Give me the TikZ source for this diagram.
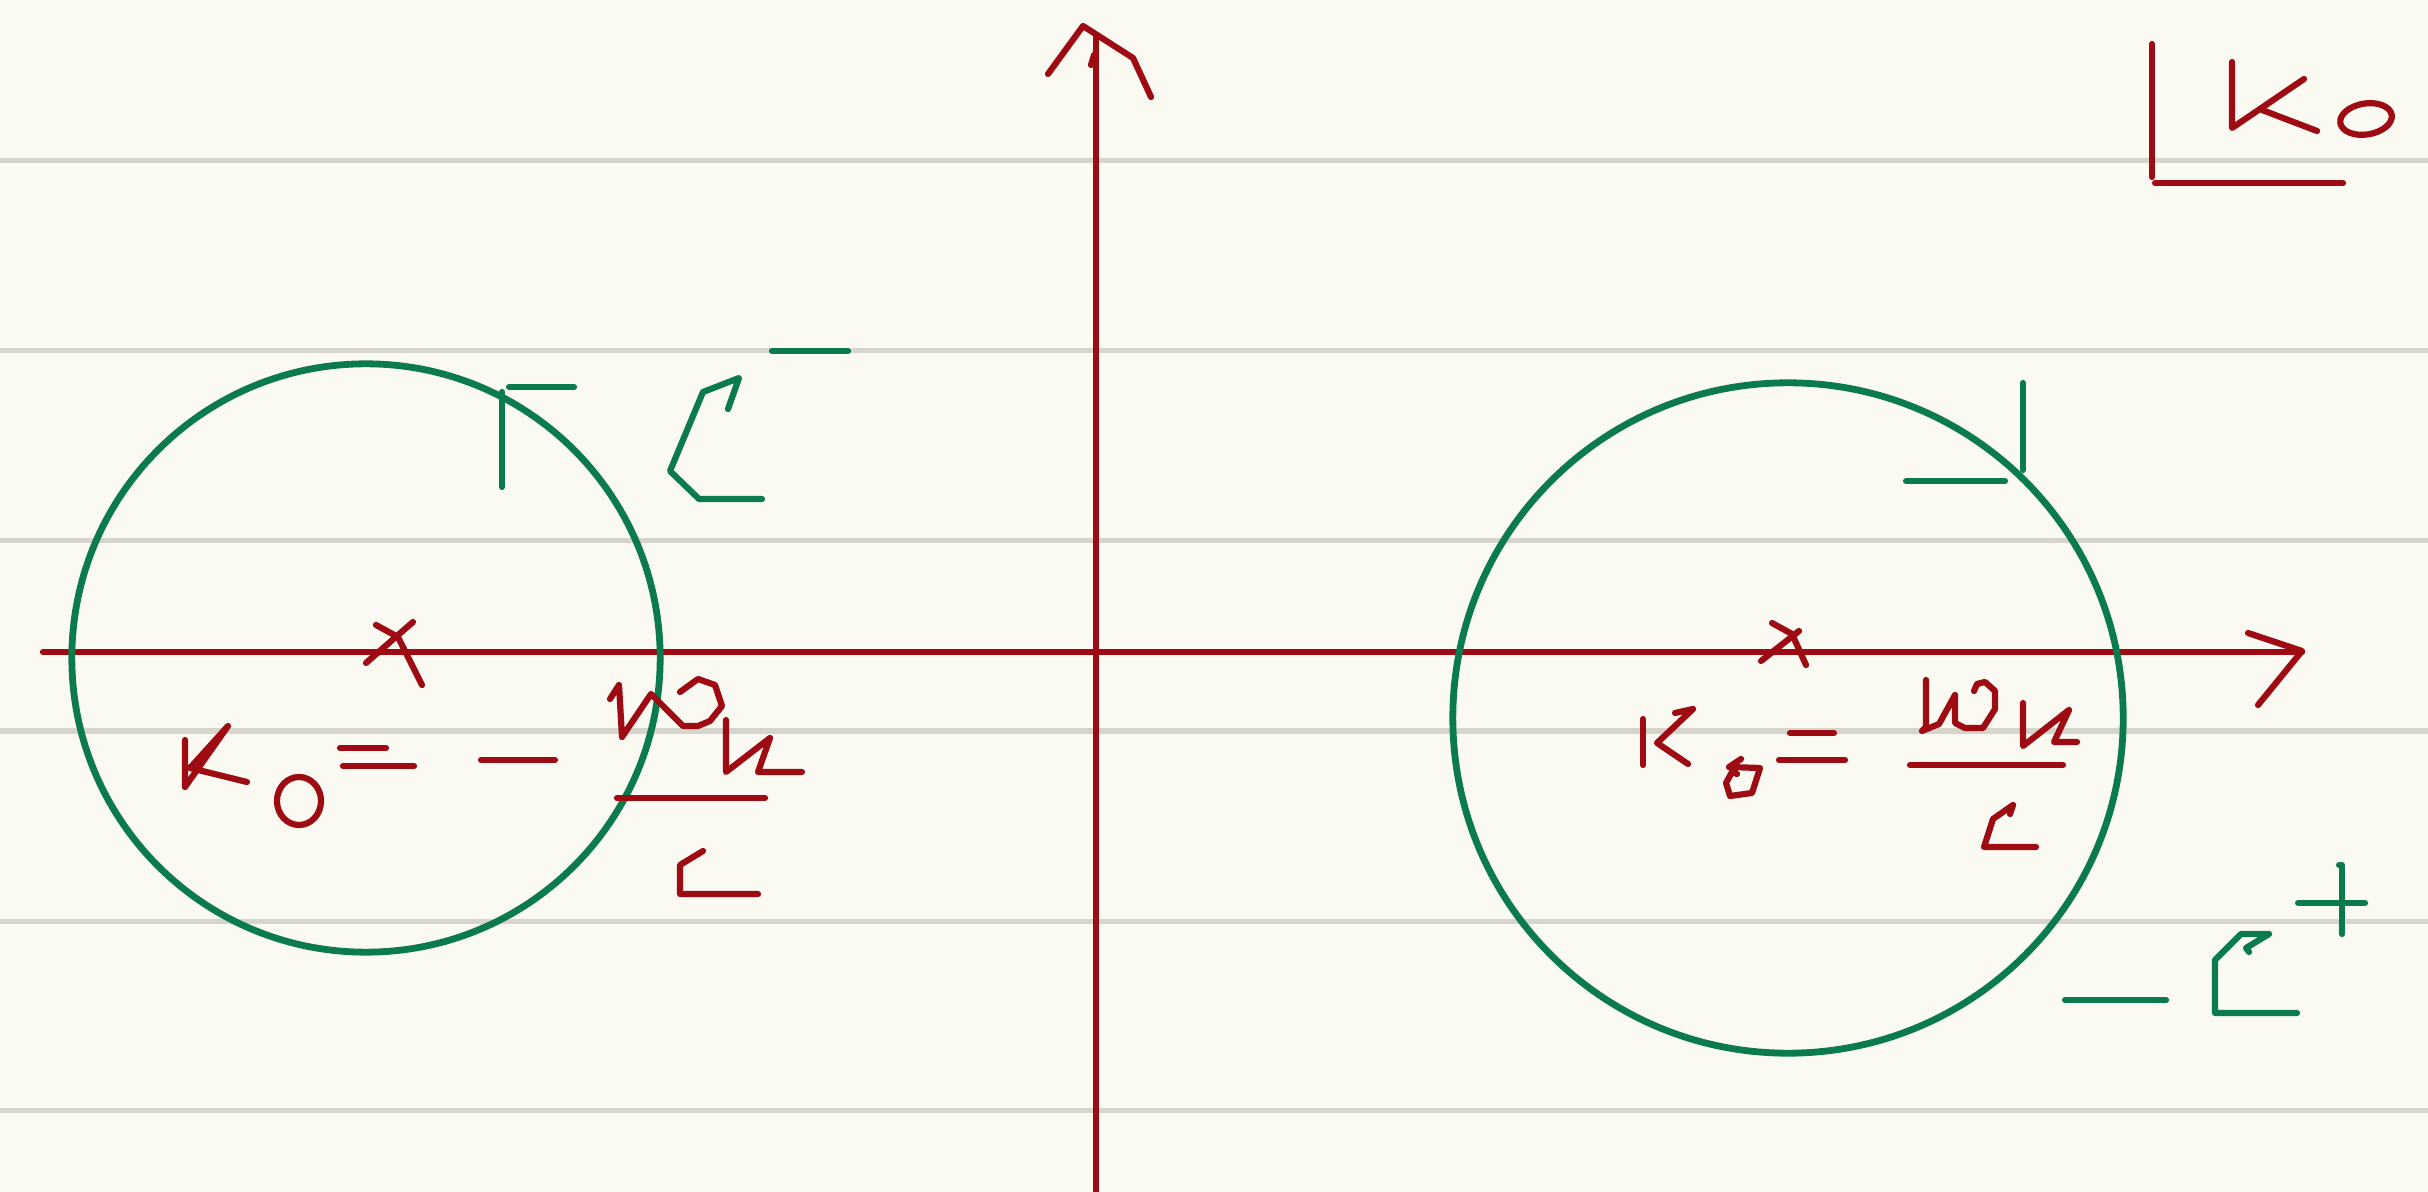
\documentclass[tikz,border=0pt]{standalone}
\definecolor{paper}{HTML}{FAF9F2}
\definecolor{ruleline}{HTML}{D6D5CC}
\definecolor{ink}{HTML}{9E0B12}
\definecolor{pen}{HTML}{0B7A4C}
\begin{document}
\begin{tikzpicture}[x=0.01cm,y=-0.01cm,
  redink/.style={draw=ink,line width=0.062cm,line cap=round,line join=round},
  greenink/.style={draw=pen,line width=0.062cm,line cap=round,line join=round},
  ruled/.style={draw=ruleline,line width=0.05cm}]
\fill[paper] (0,0) rectangle (2428,1192);
\useasboundingbox (0,0) rectangle (2428,1192);
% ruled lines
\foreach \yy in {161,351,541,731,921,1110}
  \draw[ruled] (0,\yy) -- (2428,\yy);
% axes
\draw[redink] (1096,1195) -- (1096,37);
\draw[redink] (1048,74) -- (1083,26) -- (1133,58) -- (1151,97);
\draw[redink] (1091,65) -- (1094,55);
\draw[redink] (43,652) -- (2302,652);
\draw[redink] (2248,633) -- (2302,651) -- (2258,705);
% circles
\draw[greenink,line width=0.068cm] (366,658) circle[radius=2.94cm];
\draw[greenink,line width=0.068cm] (1788,718) circle[radius=3.35cm];
% left: green labels
\draw[greenink] (502,392) -- (502,487);
\draw[greenink] (509,387) -- (574,387);
\draw[greenink] (728,409) -- (739,378) -- (703,392) -- (670,471) -- (699,499) -- (762,499);
\draw[greenink] (772,351) -- (848,351);
% left: red x
\draw[redink] (376,625) -- (398,637) -- (422,685);
\draw[redink] (413,622) -- (366,663);
% left: K_o = - w N / L
\draw[redink] (185,740) -- (185,787) -- (228,726) -- (190,768) -- (247,782);
\draw[redink] (299,801) ellipse[x radius=0.22cm, y radius=0.24cm];
\draw[redink] (340,748) -- (386,748);
\draw[redink] (343,766) -- (414,766);
\draw[redink] (481,760) -- (555,760);
\draw[redink] (610,699) -- (619,685) -- (622,737) -- (651,694) -- (683,726) -- (698,726) -- (710,721) -- (722,706) -- (715,685) -- (698,679) -- (680,692);
\draw[redink] (726,720) -- (726,772) -- (770,738) -- (758,772) -- (802,772);
\draw[redink] (617,798) -- (765,798);
\draw[redink] (703,851) -- (680,865) -- (680,894) -- (758,894);
% right: green labels
\draw[greenink] (2023,383) -- (2023,470);
\draw[greenink] (1906,481) -- (2005,481);
\draw[greenink] (2065,1000) -- (2166,1000);
\draw[greenink] (2249,952) -- (2246,948) -- (2269,934) -- (2241,934) -- (2215,960) -- (2215,1013) -- (2297,1013);
\draw[greenink] (2339,865) -- (2342,865) -- (2342,934);
\draw[greenink] (2298,903) -- (2365,903);
% right: red x
\draw[redink] (1772,623) -- (1792,634) -- (1806,665);
\draw[redink] (1799,631) -- (1761,661);
% right: K_o = w N / L
\draw[redink] (1643,719) -- (1643,765);
\draw[redink] (1675,713) -- (1693,709) -- (1657,743) -- (1688,764);
\draw[redink] (1741,759) -- (1729,767) -- (1760,768) -- (1752,793) -- (1730,796) -- (1726,783) -- (1732,772) -- (1737,774);
\draw[redink] (1790,733) -- (1834,733);
\draw[redink] (1779,760) -- (1845,760);
\draw[redink] (1926,680) -- (1926,727) -- (1922,731) -- (1939,724) -- (1955,695) -- (1955,723) -- (1965,728) -- (1983,728) -- (1995,709) -- (1995,691) -- (1985,682) -- (1977,684) -- (1974,691);
\draw[redink] (2023,703) -- (2023,746) -- (2069,710) -- (2054,742) -- (2077,742);
\draw[redink] (1910,765) -- (2063,765);
\draw[redink] (2010,814) -- (2013,805) -- (1993,819) -- (1984,847) -- (2036,847);
% top right: |K o
\draw[redink] (2152,44) -- (2152,177);
\draw[redink] (2155,183) -- (2343,183);
\draw[redink] (2232,62) -- (2232,128) -- (2304,79);
\draw[redink] (2262,110) -- (2317,131);
\draw[redink,shift={(2366,119)},rotate=9] (0,0) ellipse[x radius=0.26cm, y radius=0.155cm];
\end{tikzpicture}
\end{document}
